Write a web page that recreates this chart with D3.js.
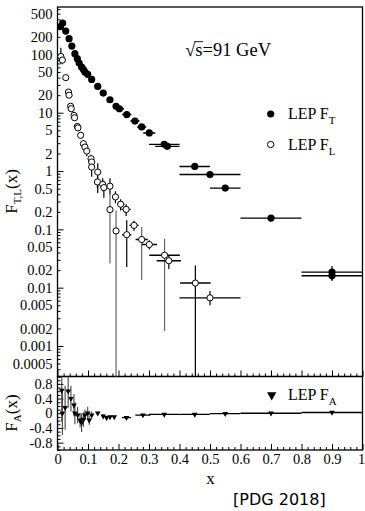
<!DOCTYPE html>
<html><head><meta charset="utf-8">
<script src="https://cdn.jsdelivr.net/npm/d3@7"></script>
<style>body{margin:0;background:#fff}</style>
</head><body>
<svg id="c" width="365" height="511"></svg>
<script>
// ---------- DATA ----------
// F_T (filled circles)
const ftX = [0.010,0.017,0.027,0.038,0.047,0.057,0.065,0.071,0.079,0.085,0.090,0.099,0.112,0.132,0.150,0.172,0.192,0.203,0.227,0.254,0.276,0.301,0.350,0.360,0.450,0.500,0.550,0.700,0.900,0.900];
const ftY = [300,345,251,186,139,103,84.5,71,60.7,55,50,45.5,37.3,28.3,21.7,16.7,12.9,11.7,9.3,7.2,5.7,4.5,2.87,2.65,1.2,0.87,0.51,0.156,0.0185,0.016];
const ftXerr = [0,0,0,0,0,0,0,0,0,0,0,0,0,0,0,0,0,0.015,0.015,0.015,0.015,0.02,0.05,0.04,0.05,0.1,0.05,0.1,0.1,0.1];
const ftYerr = [0,0,0,0,0,0,0,0,0,0,0,0,0,0,0,0,0,0,0,0,0,0,0,0,0,0,0,0,0.005,0.003];
// F_L (open circles)
const flX = [0.011,0.016,0.027,0.036,0.038,0.043,0.045,0.054,0.056,0.065,0.067,0.076,0.085,0.090,0.096,0.110,0.112,0.112,0.132,0.131,0.148,0.152,0.172,0.172,0.190,0.192,0.207,0.225,0.227,0.251,0.276,0.301,0.351,0.365,0.452,0.500];
const flY = [92,80,40,22.6,20,12.9,11.7,9.0,8.2,5.8,5.5,4.1,2.95,2.58,2.2,1.63,1.43,1.17,0.96,0.65,0.59,0.52,0.55,0.218,0.36,0.094,0.27,0.22,0.081,0.117,0.067,0.055,0.036,0.029,0.012,0.0067];
const flYhi = [130,95,45,25,22,14,12.7,9.8,9,6.4,6,4.6,3.4,3.0,2.6,1.9,1.7,1.45,1.36,0.8,0.75,0.68,0.75,0.5,0.45,0.21,0.33,0.27,0.143,0.14,0.11,0.065,0.069,0.035,0.024,0.0088];
const flYlo = [70,68,35,20.5,18,11.8,10.7,8.2,7.5,5.2,5,3.6,2.5,2.2,1.8,1.4,1.2,0.8,0.42,0.5,0.45,0.35,0.40,0.026,0.28,1e-6,0.21,0.17,0.0226,0.095,0.0135,0.045,0.0018,0.021,1e-6,0.005];
const flXerr = [0,0,0,0,0,0,0,0,0,0,0,0,0,0,0,0,0,0,0,0,0,0,0,0,0,0,0.012,0.015,0.015,0.015,0.02,0.025,0.05,0.04,0.05,0.1];
const flGroup = [0,0,0,0,0,0,0,0,0,0,0,0,0,0,0,0,0,0,0,0,0,0,0,1,0,1,0,0,0,0,1,0,1,0,0,0];
// F_A (down triangles)
const faX = [0.014,0.016,0.025,0.035,0.044,0.054,0.057,0.066,0.074,0.079,0.085,0.090,0.099,0.104,0.112,0.132,0.150,0.161,0.172,0.186,0.226,0.280,0.350,0.450,0.550,0.700,0.900];
const faY = [0.62,0.0,0.15,0.60,0.40,0.22,0.0,-0.05,-0.19,-0.26,-0.17,-0.05,0.0,-0.19,-0.05,0.0,-0.08,-0.12,-0.10,-0.10,-0.12,-0.05,-0.03,-0.03,-0.01,0.0,0.02];
const faErr = [0.85,0.6,0.6,0.45,0.35,0.3,0.3,0.22,0.2,0.25,0.2,0.15,0.18,0.12,0.1,0.05,0.05,0.04,0.04,0.03,0.03,0.02,0.02,0.02,0.02,0.02,0.02];
const faXerr = [0,0,0,0,0,0,0,0,0,0,0,0,0,0,0,0,0,0,0,0,0.015,0.025,0.05,0.05,0.05,0.1,0.1];
// Tick labels
const yTopLabels = [500,200,100,50,20,10,5,2,1,0.5,0.2,0.1,0.05,0.02,0.01,0.005,0.002,0.001,0.0005];
const xTickVals = [0,0.1,0.2,0.3,0.4,0.5,0.6,0.7,0.8,0.9,1];
const xTickLabels = ["0","0.1","0.2","0.3","0.4","0.5","0.6","0.7","0.8","0.9","1"];
const faTickVals = [0.8,0.4,0,-0.4,-0.8];
const faTickLabels = ["0.8","0.4","0","-0.4","-0.8"];

// ---------- LAYOUT ----------
const serif = "'Liberation Serif','Times New Roman',serif";
const L = 57.5, R = 362.5, T = 7, M = 376.5, B = 450;
const svg = d3.select("#c");
const x = d3.scaleLinear().domain([0,1]).range([L,R]);
const yT = d3.scaleLog().domain([0.0003,650]).range([M,T]);
const yA = d3.scaleLinear().domain([-1,1]).range([B,M]);

const defs = svg.append("defs");
defs.append("clipPath").attr("id","clipT").append("rect").attr("x",L).attr("y",T).attr("width",R-L).attr("height",M-T);
defs.append("clipPath").attr("id","clipA").append("rect").attr("x",L).attr("y",M).attr("width",R-L).attr("height",B-M);

function styleAxis(g){
  g.select(".domain").remove();
  g.selectAll("line").attr("stroke","#000").attr("stroke-width",1);
  g.selectAll("text").attr("font-family",serif).attr("font-size",14.5).attr("fill","#000");
}

// top y axis: minor / major ticks
const minorT = [], majorT = [];
for (let e=-4;e<=2;e++) for (let k=1;k<=9;k++){ const v=k*Math.pow(10,e); if(v>=0.0003&&v<=650){ (k===1?majorT:minorT).push(v);} }
svg.append("g").attr("transform",`translate(${L},0)`).call(d3.axisLeft(yT).tickValues(minorT).tickSize(-3).tickFormat("")).call(styleAxis);
svg.append("g").attr("transform",`translate(${L},0)`).call(d3.axisLeft(yT).tickValues(majorT).tickSize(-6).tickFormat("")).call(styleAxis);
svg.append("g").attr("transform",`translate(${L},0)`).call(d3.axisLeft(yT).tickValues(yTopLabels).tickSize(0).tickPadding(5).tickFormat(d=>String(d))).call(styleAxis);

// x ticks at bottom of both panels
const xMinor = d3.range(0,51).map(i=>i/50).filter(v=>Math.abs(v*10-Math.round(v*10))>1e-6);
[M,B].forEach(yy=>{
  svg.append("g").attr("transform",`translate(0,${yy})`).call(d3.axisBottom(x).tickValues(xMinor).tickSize(-3).tickFormat("")).call(styleAxis);
  svg.append("g").attr("transform",`translate(0,${yy})`).call(d3.axisBottom(x).tickValues(xTickVals).tickSize(-6).tickFormat("")).call(styleAxis);
});
const xl = svg.append("g").attr("transform",`translate(0,${B})`).call(d3.axisBottom(x).tickValues(xTickVals).tickSize(0).tickPadding(4).tickFormat((d,i)=>xTickLabels[i])).call(styleAxis);
xl.selectAll("text").filter(d=>d===1).attr("dx",-1.5);

// lower y axis
const faMinor = d3.range(-10,11).map(i=>i/10).filter(v=>faTickVals.indexOf(Math.round(v*10)/10)<0);
svg.append("g").attr("transform",`translate(${L},0)`).call(d3.axisLeft(yA).tickValues(faMinor).tickSize(-3).tickFormat("")).call(styleAxis);
svg.append("g").attr("transform",`translate(${L},0)`).call(d3.axisLeft(yA).tickValues(faTickVals).tickSize(-6).tickPadding(5).tickFormat((d,i)=>faTickLabels[i])).call(styleAxis);

// frames
svg.append("rect").attr("x",L).attr("y",T).attr("width",R-L).attr("height",M-T).attr("fill","none").attr("stroke","#000").attr("stroke-width",1.3);
svg.append("rect").attr("x",L).attr("y",M).attr("width",R-L).attr("height",B-M).attr("fill","none").attr("stroke","#000").attr("stroke-width",1.3);

// ---------- TOP PANEL DATA ----------
const gT = svg.append("g").attr("clip-path","url(#clipT)");
flX.forEach((xv,i)=>{
  const col = flGroup[i] ? "#666" : "#000";
  gT.append("line").attr("x1",x(xv)).attr("x2",x(xv)).attr("y1",yT(flYhi[i])).attr("y2",yT(flYlo[i])).attr("stroke",col).attr("stroke-width",1.2);
  if (flXerr[i]>0) gT.append("line").attr("x1",x(xv-flXerr[i])).attr("x2",x(xv+flXerr[i])).attr("y1",yT(flY[i])).attr("y2",yT(flY[i])).attr("stroke","#000").attr("stroke-width",1.4);
});
ftX.forEach((xv,i)=>{
  if (ftXerr[i]>0) gT.append("line").attr("x1",x(xv-ftXerr[i])).attr("x2",x(xv+ftXerr[i])).attr("y1",yT(ftY[i])).attr("y2",yT(ftY[i])).attr("stroke","#000").attr("stroke-width",1.4);
  if (ftYerr[i]>0) gT.append("line").attr("x1",x(xv)).attr("x2",x(xv)).attr("y1",yT(ftY[i]+ftYerr[i])).attr("y2",yT(ftY[i]-ftYerr[i])).attr("stroke","#000").attr("stroke-width",1.2);
});
gT.selectAll("circle.ft").data(ftX).join("circle").attr("class","ft")
  .attr("cx",d=>x(d)).attr("cy",(d,i)=>yT(ftY[i])).attr("r",3.6).attr("fill","#000");
gT.selectAll("circle.fl").data(flX).join("circle").attr("class","fl")
  .attr("cx",d=>x(d)).attr("cy",(d,i)=>yT(flY[i])).attr("r",3.1).attr("fill","#fff").attr("stroke","#000").attr("stroke-width",1);

// ---------- LOWER PANEL DATA ----------
const gA = svg.append("g").attr("clip-path","url(#clipA)");
faX.forEach((xv,i)=>{
  gA.append("line").attr("x1",x(xv)).attr("x2",x(xv)).attr("y1",yA(faY[i]+faErr[i])).attr("y2",yA(faY[i]-faErr[i])).attr("stroke","#444").attr("stroke-width",1.1);
  if (faXerr[i]>0) gA.append("line").attr("x1",x(xv-faXerr[i])).attr("x2",x(xv+faXerr[i])).attr("y1",yA(faY[i])).attr("y2",yA(faY[i])).attr("stroke","#000").attr("stroke-width",1.3);
});
const tri = d3.symbol().type(d3.symbolTriangle);
gA.selectAll("path.fa").data(faX).join("path").attr("class","fa")
  .attr("d",tri.size(14)()).attr("transform",(d,i)=>`translate(${x(d)},${yA(faY[i])}) rotate(180)`).attr("fill","#000");

// ---------- LEGENDS / TEXT ----------
function subText(xp, yp, main, sub, fs, tail){
  const t = svg.append("text").attr("x",xp).attr("y",yp).attr("font-family",serif).attr("font-size",fs).attr("fill","#000");
  t.append("tspan").text(main);
  t.append("tspan").attr("dy",fs*0.3).attr("font-size",fs*0.68).text(sub);
  if (tail) t.append("tspan").attr("dy",-fs*0.3).text(tail);
  return t;
}
svg.append("circle").attr("cx",270.7).attr("cy",114).attr("r",3.6).attr("fill","#000");
subText(288,119,"LEP F","T",16);
svg.append("circle").attr("cx",270.7).attr("cy",144.5).attr("r",3.2).attr("fill","#fff").attr("stroke","#000");
subText(288,150,"LEP F","L",16);
svg.append("path").attr("d",tri.size(38)()).attr("transform","translate(271.7,395) rotate(180)").attr("fill","#000");
subText(288,400,"LEP F","A",16);

// sqrt(s)
const SB = 56;
const st = svg.append("text").attr("x",271).attr("y",SB).attr("text-anchor","end").attr("font-family",serif).attr("font-size",18.5).attr("fill","#000").text("√s=91 GeV");
const n = st.node();
const s1 = n.getEndPositionOfChar(0).x, s2 = n.getEndPositionOfChar(1).x;
svg.append("line").attr("x1",s1-1).attr("x2",s2+0.5).attr("y1",SB-14.3).attr("y2",SB-14.3).attr("stroke","#000").attr("stroke-width",0.9);

// axis titles
const yl = svg.append("text").attr("transform","translate(17,191.5) rotate(-90)").attr("text-anchor","middle").attr("font-family",serif).attr("font-size",17).attr("fill","#000");
yl.append("tspan").text("F");
yl.append("tspan").attr("dy",4).attr("font-size",11).text("T,L");
yl.append("tspan").attr("dy",-4).text("(x)");
const al = svg.append("text").attr("transform","translate(17,413) rotate(-90)").attr("text-anchor","middle").attr("font-family",serif).attr("font-size",17).attr("fill","#000");
al.append("tspan").text("F");
al.append("tspan").attr("dy",4).attr("font-size",11).text("A");
al.append("tspan").attr("dy",-4).text("(x)");
svg.append("text").attr("x",210.5).attr("y",484).attr("text-anchor","middle").attr("font-family",serif).attr("font-size",17).attr("fill","#000").text("x");
svg.append("text").attr("x",233).attr("y",505).attr("font-family","'DejaVu Sans',sans-serif").attr("font-size",16).attr("fill","#000").text("[PDG 2018]");
</script>
</body></html>
